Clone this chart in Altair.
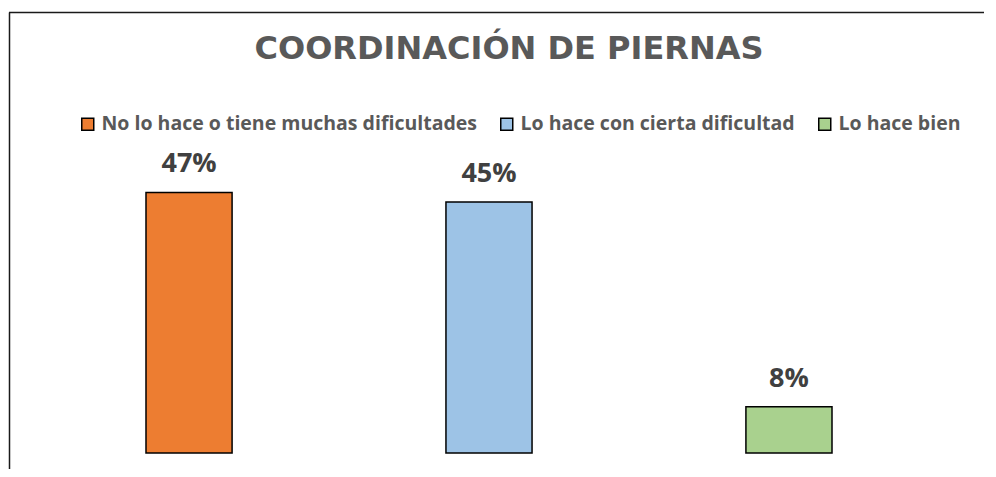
import altair as alt
import pandas as pd

categories = ["No lo hace o tiene muchas dificultades", "Lo hace con cierta dificultad", "Lo hace bien"]
values = [46.7, 45.0, 8.3]
colors = ["#ED7D31", "#9DC3E6", "#A9D18E"]
title_text = "COORDINACIÓN DE PIERNAS"

df = pd.DataFrame({"cat": categories, "val": values})

x_enc = alt.X("cat:N", sort=categories, axis=None,
              scale=alt.Scale(paddingInner=0.713, paddingOuter=0.3567))
y_enc = alt.Y("val:Q", axis=None, scale=alt.Scale(domain=[0, 50]))

bars = alt.Chart(df).mark_bar(stroke="black", strokeWidth=1.5).encode(
    x=x_enc,
    y=y_enc,
    color=alt.Color(
        "cat:N",
        sort=categories,
        scale=alt.Scale(domain=categories, range=colors),
        legend=alt.Legend(
            orient="none", legendX=39, legendY=-60, direction="horizontal",
            title=None, symbolType="square", symbolSize=144,
            symbolStrokeColor="black", symbolStrokeWidth=1.5, symbolOpacity=1,
            labelFont="Open Sans", labelFontSize=19.5, labelFontWeight="bold",
            labelColor="#595959", labelOffset=4, columnPadding=20,
            labelLimit=600, padding=0,
        ),
    ),
)

labels = alt.Chart(df).transform_calculate(
    lab="format(datum.val, '.0f') + '%'"
).mark_text(
    font="Open Sans", fontSize=27, fontWeight="bold", color="#404040",
    baseline="alphabetic", dy=-20,
).encode(x=x_enc, y=y_enc, text="lab:N")

frame_df = pd.DataFrame({"k": [0]})
left_line = alt.Chart(frame_df).mark_rule(color="#1a1a1a", strokeWidth=1.5).encode(
    x=alt.value(-29.5), y=alt.value(-161.5), y2=alt.value(300)
)
top_line = alt.Chart(frame_df).mark_rule(color="#1a1a1a", strokeWidth=1.5).encode(
    x=alt.value(-30), x2=alt.value(945), y=alt.value(-161.5)
)

chart = alt.layer(left_line, top_line, bars, labels).properties(
    width=900,
    height=279,
    title=alt.TitleParams(
        title_text, font="DejaVu Sans", fontSize=32, fontWeight="bold",
        color="#595959", anchor="middle", dx=20, offset=-54,
    ),
    autosize=alt.AutoSizeParams(type="none"),
    padding={"left": 31, "top": 166, "right": 49, "bottom": 16},
).configure_view(stroke=None)

chart.save("out.html", embed_options={"renderer": "svg", "actions": False})
